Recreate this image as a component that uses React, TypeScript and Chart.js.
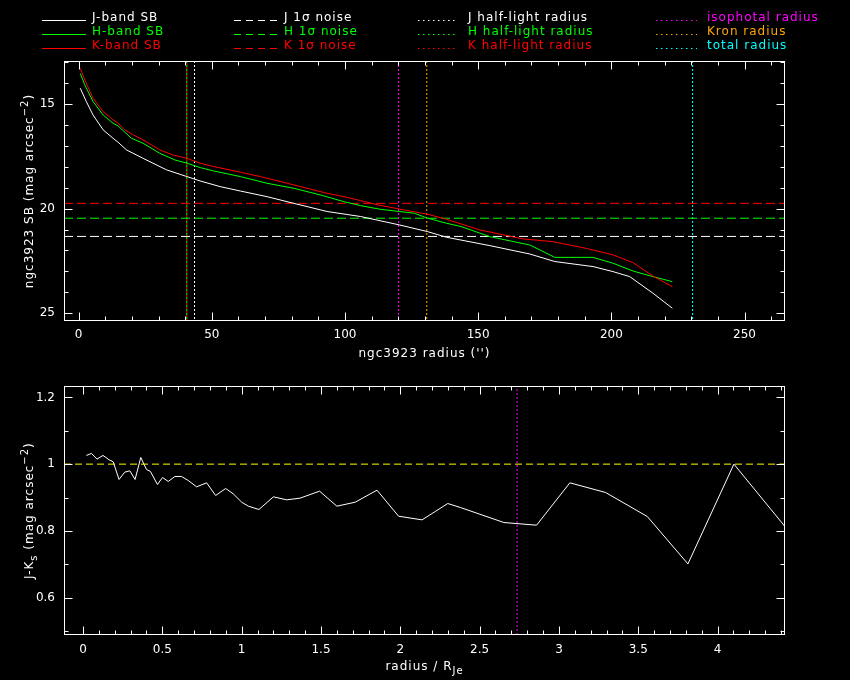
import React, { useEffect, useRef } from "react";
import { Chart, registerables } from "chart.js";

Chart.register(...registerables);

// ---------- top panel data (radius in arcsec, surface brightness in mag/arcsec^2)
const radiusJ = [0.6, 2.9, 5.4, 9.2, 12.9, 14.8, 18, 24.2, 33, 40.6, 45.6, 53.1, 60.7, 70.7, 80.8, 93.3, 105.9, 120.4, 131, 138.1, 154.4, 169.4, 178.8, 193.1, 200.6, 206.9, 215.6, 222.9];
const sbJ = [14.25, 14.89, 15.53, 16.24, 16.64, 16.83, 17.2, 17.6, 18.15, 18.47, 18.68, 18.95, 19.16, 19.43, 19.75, 20.14, 20.38, 20.78, 21.1, 21.37, 21.77, 22.17, 22.53, 22.77, 23.01, 23.25, 24.04, 24.76];
const radiusH = [0.6, 2.3, 5.4, 9.2, 12.9, 14.8, 19.8, 24.2, 30.5, 36.2, 40.6, 45.6, 50.6, 60.7, 70.7, 80.8, 90.8, 99.6, 105.9, 113.1, 120.4, 126, 131, 138.1, 143.6, 154.4, 169.4, 178.8, 193.1, 200.6, 208.1, 215.6, 222.9];
const sbH = [13.54, 14.09, 14.89, 15.53, 15.92, 16.05, 16.64, 16.88, 17.36, 17.68, 17.83, 18.04, 18.2, 18.47, 18.79, 19.03, 19.35, 19.67, 19.86, 20.03, 20.14, 20.22, 20.46, 20.7, 20.86, 21.34, 21.74, 22.33, 22.33, 22.61, 22.98, 23.25, 23.49];
const radiusK = [0.6, 2.3, 5.4, 9.2, 12.9, 14.8, 17.3, 20.5, 24.2, 30.5, 35.5, 40.6, 45.6, 50.6, 60.7, 68.2, 78.3, 88.3, 93.3, 99.6, 105.9, 112.2, 120.4, 131, 138.1, 150.6, 166.9, 178.1, 190.6, 200.6, 208.1, 215.6, 222.9];
const sbK = [13.3, 13.85, 14.73, 15.37, 15.76, 15.92, 16.24, 16.48, 16.72, 17.2, 17.44, 17.6, 17.83, 17.99, 18.26, 18.47, 18.79, 19.11, 19.27, 19.43, 19.62, 19.82, 20.02, 20.27, 20.51, 21.02, 21.45, 21.58, 21.9, 22.21, 22.58, 23.22, 23.73];

const noiseJ = 21.33;
const noiseH = 20.46;
const noiseK = 19.75;
const halfLightJ = 43.5;
const halfLightH = 40.6;
const halfLightK = 40.6;
const isophotalRadius = 120.1;
const kronRadius = 130.7;
const totalRadius = 230.5;

const topXRange = [-5.5, 265.2];
const topYRange = [12.95, 25.37];
const topXMajor = [0, 50, 100, 150, 200, 250];
const topYMajor = [15, 20, 25];

// ---------- bottom panel data (radius / R_Je, J-Ks colour)
const radiusRatio = [0.021, 0.053, 0.088, 0.126, 0.164, 0.19, 0.227, 0.263, 0.295, 0.328, 0.364, 0.4, 0.425, 0.469, 0.501, 0.537, 0.579, 0.621, 0.663, 0.716, 0.779, 0.836, 0.899, 0.947, 1.0, 1.042, 1.109, 1.2, 1.284, 1.368, 1.491, 1.6, 1.716, 1.853, 1.989, 2.137, 2.22, 2.299, 2.379, 2.653, 2.859, 3.069, 3.294, 3.557, 3.813, 4.103, 4.43];
const colourJK = [1.026, 1.032, 1.015, 1.026, 1.013, 1.007, 0.954, 0.976, 0.98, 0.954, 1.02, 0.984, 0.978, 0.939, 0.96, 0.948, 0.963, 0.963, 0.951, 0.932, 0.944, 0.906, 0.927, 0.911, 0.886, 0.874, 0.864, 0.902, 0.893, 0.898, 0.919, 0.874, 0.886, 0.922, 0.844, 0.833, 0.858, 0.882, 0.87, 0.825, 0.817, 0.944, 0.915, 0.843, 0.701, 1.0, 0.81];
const colourReference = 1.0;
const isophotalRatio = 2.736;

const botXRange = [-0.12, 4.425];
const botYRange = [0.488, 1.2335];
const botXMajor = [0, 0.5, 1, 1.5, 2, 2.5, 3, 3.5, 4];
const botYMajor = [0.6, 0.8, 1.0, 1.2];

const WHITE = "#ffffff";
const GREEN = "#00ff00";
const RED = "#ff0000";
const MAGENTA = "#ff00ff";
const ORANGE = "#ffa500";
const CYAN = "#00ffff";
const YELLOW = "#ffff00";

const FONT = '"DejaVu Sans", "Liberation Sans", sans-serif';

function steps(a: number, b: number, s: number): number[] {
  const out: number[] = [];
  const n = Math.round((b - a) / s);
  for (let i = 0; i <= n; i++) out.push(Math.round((a + i * s) * 1000) / 1000);
  return out;
}

const pts = (xs: number[], ys: number[]) => xs.map((x, i) => ({ x, y: ys[i] }));

type Part = { t: string; size: number; dy?: number };

function drawRich(ctx: CanvasRenderingContext2D, parts: Part[], cx: number, cy: number, angle: number, color: string) {
  ctx.save();
  ctx.translate(cx, cy);
  ctx.rotate(angle);
  (ctx as any).letterSpacing = "1px";
  ctx.textAlign = "left";
  ctx.textBaseline = "alphabetic";
  ctx.fillStyle = color;
  let total = 0;
  const w = parts.map((p) => {
    ctx.font = `${p.size}px ${FONT}`;
    const m = ctx.measureText(p.t).width;
    total += m;
    return m;
  });
  let x = -total / 2;
  parts.forEach((p, i) => {
    ctx.font = `${p.size}px ${FONT}`;
    ctx.fillText(p.t, x, p.dy || 0);
    x += w[i];
  });
  ctx.restore();
}

const frameTicks = {
  id: "frameTicks",
  afterDatasetsDraw(chart: any, _args: any, opts: any) {
    const { ctx, chartArea: a, scales } = chart;
    const xs = scales.x;
    const ys = scales.y;
    const L = Math.round(a.left) + 0.5;
    const R = Math.round(a.right) - 0.5;
    const T = Math.round(a.top) + 0.5;
    const B = Math.round(a.bottom) - 0.5;
    ctx.save();
    ctx.strokeStyle = WHITE;
    ctx.lineWidth = 1;
    ctx.setLineDash([]);
    ctx.strokeRect(L, T, R - L, B - T);
    ctx.beginPath();
    const xt = (vals: number[], len: number) => {
      vals.forEach((v) => {
        const p = Math.round(xs.getPixelForValue(v)) + 0.5;
        if (p < L || p > R) return;
        ctx.moveTo(p, B);
        ctx.lineTo(p, B - len);
        ctx.moveTo(p, T);
        ctx.lineTo(p, T + len);
      });
    };
    const yt = (vals: number[], len: number) => {
      vals.forEach((v) => {
        const p = Math.round(ys.getPixelForValue(v)) + 0.5;
        if (p < T || p > B) return;
        ctx.moveTo(L, p);
        ctx.lineTo(L + len, p);
        ctx.moveTo(R, p);
        ctx.lineTo(R - len, p);
      });
    };
    xt(opts.xMinor, 4);
    xt(opts.xMajor, 8);
    yt(opts.yMinor, 4);
    yt(opts.yMajor, 8);
    ctx.stroke();
    ctx.restore();
  },
};

const topLegend = [
  { x0: 42, x1: 86, tx: 92, dash: [] as number[], items: [["J-band SB", WHITE], ["H-band SB", GREEN], ["K-band SB", RED]] },
  { x0: 234, x1: 278, tx: 284, dash: [7, 5], items: [["J 1σ noise", WHITE], ["H 1σ noise", GREEN], ["K 1σ noise", RED]] },
  { x0: 418, x1: 458, tx: 468, dash: [1.5, 3.5], items: [["J half-light radius", WHITE], ["H half-light radius", GREEN], ["K half-light radius", RED]] },
  { x0: 656, x1: 697, tx: 707, dash: [1.5, 3.5], items: [["isophotal radius", MAGENTA], ["Kron radius", ORANGE], ["total radius", CYAN]] },
];
const legendRows = [21, 35, 49];

const topText = {
  id: "topText",
  afterDraw(chart: any) {
    const { ctx, chartArea: a } = chart;
    ctx.save();
    topLegend.forEach((col) => {
      col.items.forEach(([label, color], r) => {
        const y = legendRows[r];
        ctx.strokeStyle = color;
        ctx.lineWidth = 1;
        ctx.setLineDash(col.dash);
        ctx.beginPath();
        ctx.moveTo(col.x0, y - 0.5);
        ctx.lineTo(col.x1, y - 0.5);
        ctx.stroke();
        ctx.setLineDash([]);
        (ctx as any).letterSpacing = "1px";
        ctx.font = `12px ${FONT}`;
        ctx.fillStyle = color;
        ctx.textAlign = "left";
        ctx.textBaseline = "alphabetic";
        ctx.fillText(label, col.tx, y);
      });
    });
    ctx.restore();
    drawRich(ctx, [{ t: "ngc3923 radius ('')", size: 12 }], (a.left + a.right) / 2, 357, 0, WHITE);
    drawRich(
      ctx,
      [
        { t: "ngc3923 SB (mag arcsec", size: 12 },
        { t: "−2", size: 10, dy: -5 },
        { t: ")", size: 12 },
      ],
      33,
      (a.top + a.bottom) / 2,
      -Math.PI / 2,
      WHITE
    );
  },
};

const botText = {
  id: "botText",
  afterDraw(chart: any) {
    const { ctx, chartArea: a } = chart;
    drawRich(
      ctx,
      [
        { t: "radius / R", size: 12 },
        { t: "Je", size: 10, dy: 4 },
      ],
      (a.left + a.right) / 2,
      300,
      0,
      WHITE
    );
    drawRich(
      ctx,
      [
        { t: "J-K", size: 12 },
        { t: "s", size: 10, dy: 4 },
        { t: " (mag arcsec", size: 12 },
        { t: "−2", size: 10, dy: -5 },
        { t: ")", size: 12 },
      ],
      33,
      (a.top + a.bottom) / 2,
      -Math.PI / 2,
      WHITE
    );
  },
};

function lineDs(data: any[], color: string, dash: number[] = [], offset = 0) {
  return {
    data,
    borderColor: color,
    backgroundColor: color,
    borderWidth: 1,
    borderDash: dash,
    borderDashOffset: offset,
    showLine: true,
    pointRadius: 0,
    pointHoverRadius: 0,
    fill: false,
    tension: 0,
  };
}

function axisOpts(range: number[], majors: number[], reverse: boolean, isX: boolean, size: number, pad: number) {
  return {
    type: "linear" as const,
    min: range[0],
    max: range[1],
    reverse,
    afterBuildTicks: (s: any) => {
      s.ticks = majors.map((v) => ({ value: v }));
    },
    afterFit: (s: any) => {
      if (isX) s.height = size;
      else s.width = size;
    },
    grid: { display: false, drawTicks: false },
    border: { display: false },
    ticks: {
      color: WHITE,
      padding: pad,
      autoSkip: false,
      maxRotation: 0,
      font: { family: FONT, size: 12 },
      callback: (v: any) => String(Math.round(Number(v) * 100) / 100),
    },
  };
}

export default function App() {
  const topRef = useRef<HTMLCanvasElement>(null);
  const botRef = useRef<HTMLCanvasElement>(null);

  useEffect(() => {
    const hline = (y: number) => [{ x: topXRange[0], y }, { x: topXRange[1], y }];
    const vline = (x: number) => [{ x, y: topYRange[0] }, { x, y: topYRange[1] }];

    const top = new Chart(topRef.current as HTMLCanvasElement, {
      type: "scatter",
      data: {
        datasets: [
          lineDs(pts(radiusK, sbK), RED),
          lineDs(pts(radiusH, sbH), GREEN),
          lineDs(pts(radiusJ, sbJ), WHITE),
          lineDs(hline(noiseJ), WHITE, [9, 4]),
          lineDs(hline(noiseH), GREEN, [9, 4]),
          lineDs(hline(noiseK), RED, [9, 4]),
          lineDs(vline(halfLightJ), WHITE, [2, 2]),
          lineDs(vline(halfLightH), GREEN, [2, 2]),
          lineDs(vline(halfLightK), RED, [2, 2], 2),
          lineDs(vline(isophotalRadius), MAGENTA, [2, 2]),
          lineDs(vline(kronRadius), ORANGE, [2, 2]),
          lineDs(vline(totalRadius), CYAN, [2, 2]),
        ] as any,
      },
      options: {
        animation: false,
        responsive: false,
        devicePixelRatio: 1,
        events: [],
        layout: { padding: { top: 61, right: 65, left: 0, bottom: 0 } },
        plugins: {
          legend: { display: false },
          tooltip: { enabled: false },
          frameTicks: {
            xMajor: topXMajor,
            xMinor: steps(0, 260, 10),
            yMajor: topYMajor,
            yMinor: steps(13, 25, 1),
          },
        } as any,
        scales: {
          x: axisOpts(topXRange, topXMajor, false, true, 49, 7),
          y: axisOpts(topYRange, topYMajor, true, false, 64, 9),
        } as any,
      },
      plugins: [frameTicks, topText],
    });

    const bot = new Chart(botRef.current as HTMLCanvasElement, {
      type: "scatter",
      data: {
        datasets: [
          lineDs(pts(radiusRatio, colourJK), WHITE),
          lineDs([{ x: botXRange[0], y: colourReference }, { x: botXRange[1], y: colourReference }], YELLOW, [7, 4]),
          lineDs([{ x: isophotalRatio, y: botYRange[0] }, { x: isophotalRatio, y: botYRange[1] }], MAGENTA, [2, 2]),
        ] as any,
      },
      options: {
        animation: false,
        responsive: false,
        devicePixelRatio: 1,
        events: [],
        layout: { padding: { top: 5, right: 65, left: 0, bottom: 0 } },
        plugins: {
          legend: { display: false },
          tooltip: { enabled: false },
          frameTicks: {
            xMajor: botXMajor,
            xMinor: steps(0, 4.4, 0.1),
            yMajor: botYMajor,
            yMinor: steps(0.5, 1.2, 0.1),
          },
        } as any,
        scales: {
          x: axisOpts(botXRange, botXMajor, false, true, 45, 8),
          y: axisOpts(botYRange, botYMajor, false, false, 64, 9),
        } as any,
      },
      plugins: [frameTicks, botText],
    });

    return () => {
      top.destroy();
      bot.destroy();
    };
  }, []);

  return (
    <div style={{ position: "fixed", left: 0, top: 0, width: 850, height: 680, background: "#000", overflow: "hidden" }}>
      <canvas ref={topRef} width={850} height={370} style={{ position: "absolute", left: 0, top: 0, width: 850, height: 370 }} />
      <canvas ref={botRef} width={850} height={310} style={{ position: "absolute", left: 0, top: 370, width: 850, height: 310 }} />
    </div>
  );
}
